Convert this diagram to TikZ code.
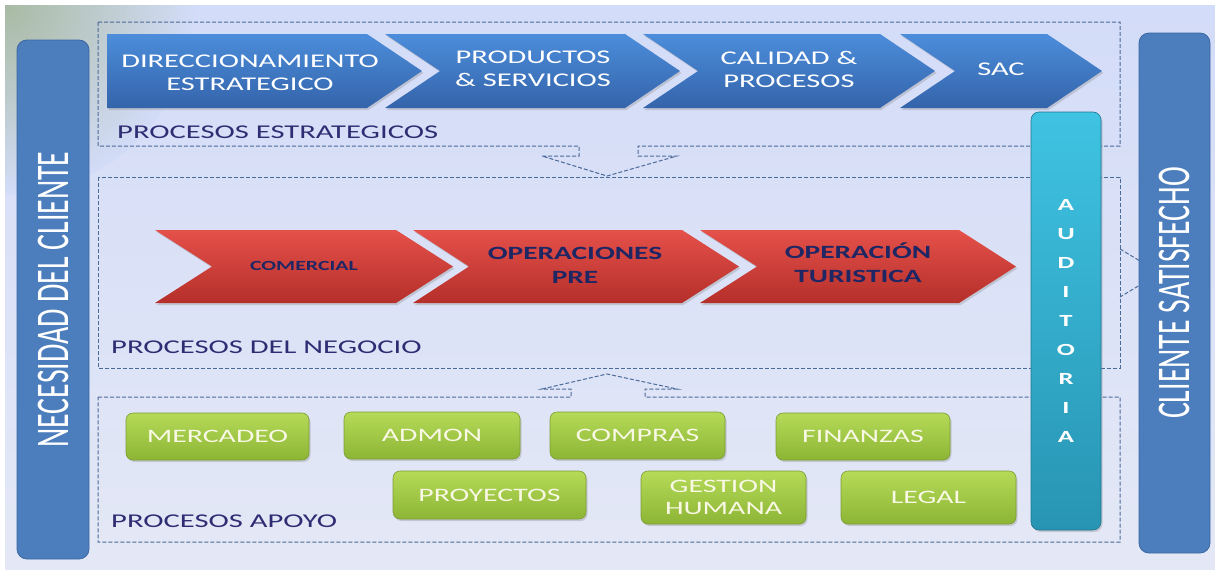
\documentclass[tikz,border=0pt]{standalone}
\usepackage{fontspec}
\setmainfont{Carlito}[FakeStretch=1.57]
\newfontfamily\narrowfont{Carlito}[FakeStretch=0.637]
\usetikzlibrary{shadows}
\definecolor{bgtop}{HTML}{D3DCF8}
\definecolor{bgbot}{HTML}{E4E8F6}
\definecolor{bggreen}{HTML}{A9BAA3}
\definecolor{dashc}{HTML}{4A6A98}
\definecolor{bluetop}{HTML}{4C8DDB}
\definecolor{bluebot}{HTML}{3464AA}
\definecolor{redtop}{HTML}{E5504A}
\definecolor{redbot}{HTML}{B52F2A}
\definecolor{navytext}{HTML}{1E2664}
\definecolor{labeltext}{HTML}{2E2C72}
\definecolor{greentop}{HTML}{B5DA58}
\definecolor{greenbot}{HTML}{8DB535}
\definecolor{greenedge}{HTML}{7C9D33}
\definecolor{greentext}{HTML}{F8F8E4}
\definecolor{sidefill}{HTML}{4C7DBC}
\definecolor{sideedge}{HTML}{3B67A3}
\definecolor{audtop}{HTML}{3FC3E2}
\definecolor{audbot}{HTML}{2894B3}
\tikzset{
    softshadow/.style = {drop shadow={opacity=0.3,shadow xshift=1.5pt,shadow yshift=-2pt}},
    dashbox/.style = {draw=dashc, line width=1pt, dash pattern=on 4pt off 2pt},
    bluechev/.style = {top color=bluetop, bottom color=bluebot, softshadow},
    redchev/.style = {top color=redtop, bottom color=redbot, softshadow},
    chevtext/.style = {text=white, align=center, inner sep=0pt, font=\fontsize{19.4}{23}\selectfont},
    redtext/.style = {text=navytext, align=center, inner sep=0pt, font=\bfseries\fontsize{18.7}{24}\selectfont},
    greenbox/.style = {rectangle, rounded corners=7pt, draw=greenedge, line width=0.6pt, top color=greentop, bottom color=greenbot, text=greentext, align=center, inner sep=0pt, font=\fontsize{19}{22}\selectfont, softshadow},
    sidebar/.style = {rectangle, rounded corners=10pt, draw=sideedge, line width=0.8pt, fill=sidefill, text=white, rotate=90, inner sep=0pt, font=\narrowfont\fontsize{46.8}{50}\selectfont},
    audbar/.style = {rectangle, rounded corners=8pt, draw=audbot!80!black, line width=0.6pt, top color=audtop, bottom color=audbot, text=white, align=center, inner sep=0pt, font=\bfseries\fontsize{17}{29.1}\selectfont, softshadow},
    grouplabel/.style = {text=labeltext, anchor=base west, inner sep=0pt, font=\fontsize{19.5}{22}\selectfont}
}

\begin{document}
\begin{tikzpicture}[x=1pt,y=-1pt]
\useasboundingbox (0,0) rectangle (1215,570);
% background
\fill[white] (0,0) rectangle (1215,570);
\shade[top color=bgtop, bottom color=bgbot] (5,5) rectangle (1215,570);
\begin{scope}
\clip (5,5) rectangle (1215,570);
\shade[inner color=bggreen, outer color=bgtop] (5,5) circle (190);
\end{scope}
%
% dashed regions
\draw[dashbox] (98,22) -- (1120,22) -- (1120,146) -- (638,146) -- (638,156) -- (677,156)
    -- (607,176) -- (542,156) -- (579,156) -- (579,146) -- (98,146) -- cycle;
\draw[dashbox] (98,177) rectangle (1120,368);
\draw[dashbox] (1120,249) -- (1160,273) -- (1120,297);
\draw[dashbox] (98,397) -- (571,397) -- (571,389) -- (542,389) -- (607,374) -- (677,389)
    -- (645,389) -- (645,397) -- (1120,397) -- (1120,542) -- (98,542) -- cycle;
\node[grouplabel] (lblest) at (117,138) {PROCESOS ESTRATEGICOS};
\node[grouplabel] (lblneg) at (111,353) {PROCESOS DEL NEGOCIO};
\node[grouplabel] (lblapo) at (111,527) {PROCESOS APOYO};
%
% strategic chevrons
\shade[bluechev] (107,34) -- (367,34) -- (422,71) -- (367,108) -- (107,108) -- cycle;
\shade[bluechev] (385,34) -- (625,34) -- (680,71) -- (625,108) -- (385,108) -- (440,71) -- cycle;
\shade[bluechev] (643,34) -- (880,34) -- (935,71) -- (880,108) -- (643,108) -- (698,71) -- cycle;
\shade[bluechev] (900,34) -- (1047,34) -- (1102,71) -- (1047,108) -- (900,108) -- (955,71) -- cycle;
\node[chevtext] (dir) at (250,72.5) {DIRECCIONAMIENTO\\ESTRATEGICO};
\node[chevtext] (prod) at (533,69) {PRODUCTOS\\\& SERVICIOS};
\node[chevtext] (cal) at (789,69) {CALIDAD \&\\PROCESOS};
\node[chevtext] (sac) at (1001,69) {SAC};
%
% business chevrons
\shade[redchev] (155,230) -- (396,230) -- (453,266.5) -- (396,303) -- (155,303) -- (212,266.5) -- cycle;
\shade[redchev] (413,230) -- (682,230) -- (739,266.5) -- (682,303) -- (413,303) -- (469,266.5) -- cycle;
\shade[redchev] (700,230) -- (959,230) -- (1016,266.5) -- (959,303) -- (700,303) -- (757,266.5) -- cycle;
\node[redtext, font=\bfseries\fontsize{13.9}{16}\selectfont] (com) at (304,266) {COMERCIAL};
\node[redtext] (opre) at (575,265.5) {OPERACIONES\\PRE};
\node[redtext] (otur) at (858,263) {OPERACIÓN\\TURISTICA};
%
% support boxes
\node[greenbox, minimum width=183pt, minimum height=47pt] (merc) at (217.5,436.5) {MERCADEO};
\node[greenbox, minimum width=176pt, minimum height=47pt] (admon) at (432,435.5) {ADMON};
\node[greenbox, minimum width=175pt, minimum height=47pt] (comp) at (637.5,435.5) {COMPRAS};
\node[greenbox, minimum width=174pt, minimum height=47pt] (fin) at (863,436.5) {FINANZAS};
\node[greenbox, minimum width=193pt, minimum height=48pt] (proy) at (489.5,495) {PROYECTOS};
\node[greenbox, minimum width=165pt, minimum height=53pt] (gest) at (723.5,497.5) {GESTION\\HUMANA};
\node[greenbox, minimum width=175pt, minimum height=53pt] (legal) at (928.5,497.5) {LEGAL};
%
% audit and side bars
\node[audbar, minimum width=70pt, minimum height=418pt] (aud) at (1066,321) {A\\U\\D\\I\\T\\O\\R\\I\\A};
\node[sidebar, minimum width=519pt, minimum height=72pt] (nec) at (53,299.5) {NECESIDAD DEL CLIENTE};
\node[sidebar, minimum width=520pt, minimum height=71pt] (sat) at (1174.5,293) {CLIENTE SATISFECHO};
\end{tikzpicture}
\end{document}
